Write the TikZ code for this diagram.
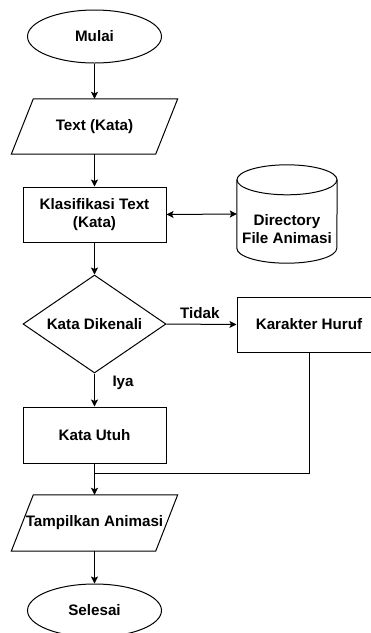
\documentclass[tikz,border=0pt]{standalone}
\usepackage{fontspec}
\setmainfont{Liberation Sans}
\usetikzlibrary{shapes.geometric, arrows.meta}

% slanted input/output frame drawn around a plain rectangular node
\newcommand\ioframe[1]{%
  \draw[shapeline] ([xshift=11pt]#1.north west) -- ([xshift=11pt]#1.north east)
    -- ([xshift=-11pt]#1.south east) -- ([xshift=-11pt]#1.south west) -- cycle;}

\begin{document}
\begin{tikzpicture}[x=1pt, y=1pt,
  every node/.style={font=\fontsize{15.2}{18.5}\selectfont\bfseries, text=black},
  shapeline/.style={draw=black, line width=1pt},
  terminal/.style={shapeline, ellipse, minimum width=134pt, minimum height=53pt, inner sep=0pt},
  process/.style={shapeline, rectangle, minimum width=143pt, minimum height=55pt, inner sep=0pt, align=center},
  iobox/.style={rectangle, minimum width=144pt, minimum height=55pt, inner sep=0pt},
  decision/.style={shapeline, diamond, minimum width=143pt, minimum height=98pt, inner sep=0pt, aspect=1.46},
  flow/.style={line width=1pt, -{Stealth[length=7pt, width=7pt, inset=1.5pt]}},
  flowboth/.style={line width=1pt, {Stealth[length=7pt, width=7pt, inset=1.5pt]}-{Stealth[length=7pt, width=7pt, inset=1.5pt]}},
  plain/.style={line width=1pt},
  lbl/.style={inner sep=0pt}
]
\fill[white] (0,0) rectangle (371,-633);
\useasboundingbox (0,0) rectangle (371,-633);

% main column
\node[terminal] (mulai) at (94.5,-36.5) {Mulai};
\node[iobox] (text) at (94.5,-126.5) {Text (Kata)};
\ioframe{text}
\node[process] (klas) at (94.5,-214.5) {Klasifikasi Text\\(Kata)};
\node[decision] (dec) at (94.5,-324) {Kata Dikenali};
\node[process, minimum height=56pt] (utuh) at (94.5,-435) {Kata Utuh};
\node[iobox, minimum height=56pt] (tampil) at (94.5,-523) {Tampilkan Animasi};
\ioframe{tampil}
\node[terminal] (selesai) at (94.5,-610.5) {Selesai};

% animation file store (cylinder)
\node[rectangle, minimum width=100pt, minimum height=98pt, inner sep=0pt] (dir) at (287,-214) {};
\draw[shapeline] ([yshift=-15pt]dir.north) ellipse [x radius=50pt, y radius=15pt];
\draw[shapeline] ([yshift=-15pt]dir.north west) -- ([yshift=15pt]dir.south west)
  arc[start angle=180, end angle=360, x radius=50pt, y radius=15pt]
  -- ([yshift=-15pt]dir.north east);
\node[align=center] (dirtext) at (287,-229) {Directory\\File Animasi};

% letter-by-letter branch
\node[process, minimum width=144pt] (kar) at (309,-324.5) {Karakter Huruf};
\coordinate (merge) at (94.5,-473);

% connectors
\draw[flow] (mulai) -- (text);
\draw[flow] (text) -- (klas);
\draw[flowboth] (klas.east) -- (dir.west);
\draw[flow] (klas) -- (dec);
\draw[flow] (dec.east) -- node[lbl, pos=0.475, anchor=base, yshift=6pt] {Tidak} (kar.west);
\draw[flow] (dec.south) -- node[lbl, pos=0.38, anchor=base west, xshift=17.5pt] {Iya} (utuh.north);
\draw[flow] (utuh) -- (tampil);
\draw[plain] (kar.south) |- (merge);
\draw[flow] (tampil) -- (selesai);
\end{tikzpicture}
\end{document}
